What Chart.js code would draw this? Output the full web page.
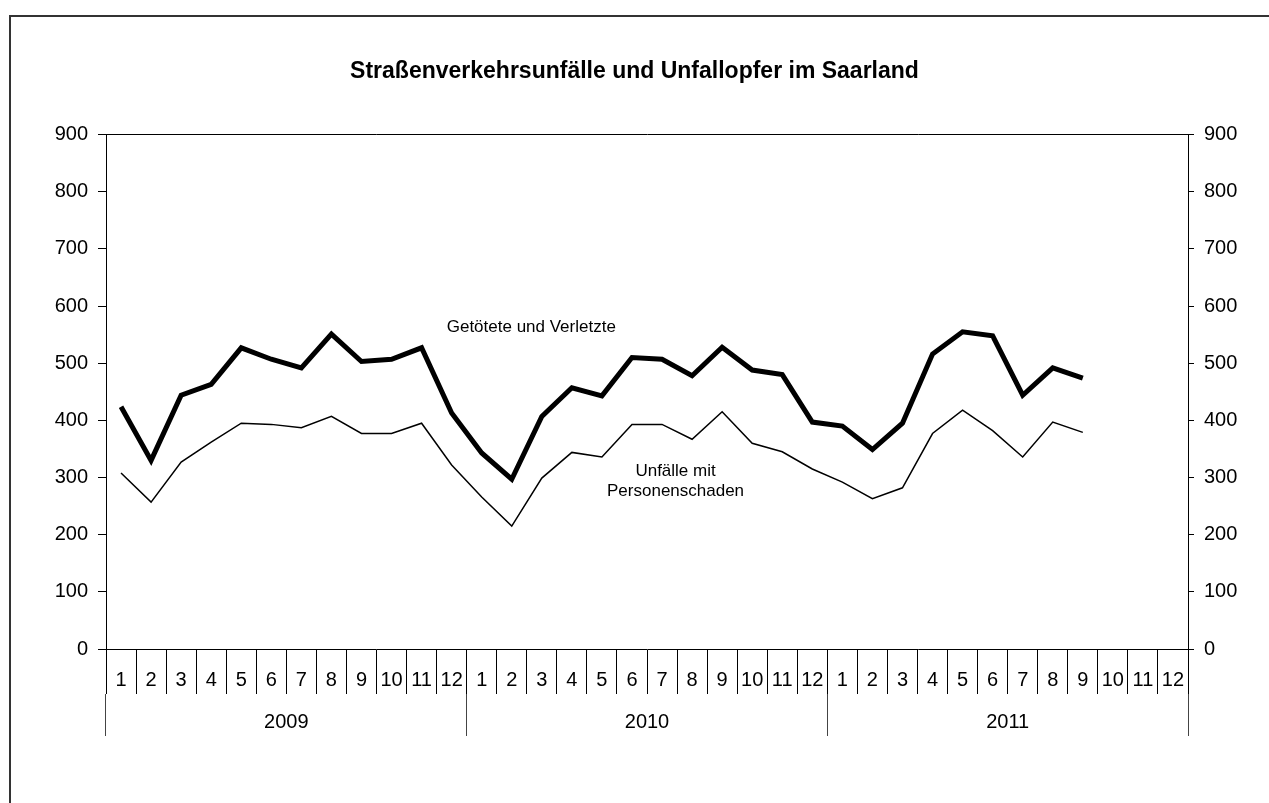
<!DOCTYPE html>
<html>
<head>
<meta charset="utf-8">
<title>Straßenverkehrsunfälle und Unfallopfer im Saarland</title>
<script src="https://cdn.jsdelivr.net/npm/chart.js@4.4.1/dist/chart.umd.min.js"></script>
<style>
  html, body { margin: 0; padding: 0; background: #fff; overflow: hidden; }
  #frame {
    position: absolute; left: 9px; top: 15px; width: 1400px; height: 900px;
    border-left: 2px solid #333; border-top: 2px solid #333;
  }
  #chart { position: absolute; left: 0; top: 0; }
</style>
</head>
<body>
<div id="frame"></div>
<canvas id="chart" width="1269" height="803"></canvas>
<script>
// data
var years = ["2009", "2010", "2011"];
var months = ["1", "2", "3", "4", "5", "6", "7", "8", "9", "10", "11", "12"];
var monthLabels = [].concat(months, months, months);

var verletzte = [
  424, 330, 444, 463, 527, 507, 492, 551, 503, 507, 527, 413,
  343, 297, 407, 457, 443, 510, 507, 478, 528, 488, 480, 397,
  390, 349, 395, 516, 555, 548, 444, 492, 474, null, null, null
];
var unfaelle = [
  308, 257, 327, 362, 395, 393, 387, 407, 377, 377, 395, 322,
  266, 215, 299, 344, 336, 393, 393, 367, 415, 360, 345, 315,
  292, 263, 282, 377, 418, 382, 336, 397, 379, null, null, null
];
var yMin = 0, yMax = 900, yStep = 100;

// in-chart series labels (category index, value)
var notes = [
  { lines: ["Getötete und Verletzte"], at: 13.65, value: 562 },
  { lines: ["Unfälle mit", "Personenschaden"], at: 18.45, value: 293 }
];

Chart.defaults.font.family = '"Liberation Sans", Arial, sans-serif';
Chart.defaults.color = "#000";

var noteLabels = {
  id: "noteLabels",
  afterDatasetsDraw: function (chart) {
    var ctx = chart.ctx;
    var xs = chart.scales.x, ys = chart.scales.y;
    ctx.save();
    ctx.font = '17px "Liberation Sans", Arial, sans-serif';
    ctx.fillStyle = "#000";
    ctx.textAlign = "center";
    ctx.textBaseline = "middle";
    notes.forEach(function (n) {
      var x = xs.getPixelForValue(n.at);
      var y = ys.getPixelForValue(n.value);
      n.lines.forEach(function (line, i) {
        ctx.fillText(line, x, y + (i - (n.lines.length - 1) / 2) * 20.5);
      });
    });
    ctx.restore();
  }
};

var yAxis = function (pos, width, tick) {
  return {
    type: "linear",
    position: pos,
    min: yMin,
    max: yMax,
    ticks: { stepSize: yStep, padding: 10, font: { size: 20 }, color: "#000" },
    grid: { drawOnChartArea: false, tickLength: tick, color: "#000" },
    border: { display: true, color: "#000" },
    afterFit: function (s) { s.width = width; }
  };
};

new Chart(document.getElementById("chart").getContext("2d"), {
  type: "line",
  data: {
    labels: monthLabels,
    datasets: [{
      label: "Getötete und Verletzte",
      data: verletzte,
      borderColor: "#000",
      borderWidth: 5,
      pointRadius: 0,
      tension: 0,
      fill: false
    }, {
      label: "Unfälle mit Personenschaden",
      data: unfaelle,
      borderColor: "#000",
      borderWidth: 1.5,
      pointRadius: 0,
      tension: 0,
      fill: false
    }]
  },
  options: {
    responsive: false,
    animation: false,
    layout: { padding: { left: 0, right: 0, top: 0, bottom: 67 } },
    plugins: {
      legend: { display: false },
      tooltip: { enabled: false },
      title: {
        display: true,
        text: "Straßenverkehrsunfälle und Unfallopfer im Saarland",
        font: { size: 23, weight: "bold" },
        color: "#000",
        padding: { top: 58, bottom: 49 }
      }
    },
    scales: {
      x: {
        type: "category",
        position: "bottom",
        offset: true,
        weight: 0,
        ticks: { autoSkip: false, maxRotation: 0, padding: -26, font: { size: 20 }, color: "#000" },
        grid: { offset: true, drawOnChartArea: false, tickLength: 45, color: "#000" },
        border: { display: true, color: "#000" },
        afterFit: function (s) { s.height = 45; }
      },
      xYears: {
        type: "category",
        position: "bottom",
        labels: years,
        offset: true,
        weight: 1,
        ticks: { autoSkip: false, maxRotation: 0, padding: -26, font: { size: 20 }, color: "#000" },
        grid: { offset: true, drawOnChartArea: false, tickLength: 42, color: "#444" },
        border: { display: false },
        afterFit: function (s) { s.height = 42; }
      },
      xTop: {
        type: "category",
        position: "top",
        labels: monthLabels,
        offset: true,
        ticks: { display: false },
        grid: { drawOnChartArea: false, drawTicks: false },
        border: { display: true, color: "#000" },
        afterFit: function (s) { s.height = 0; }
      },
      y: yAxis("left", 106, 8),
      y2: yAxis("right", 81, 6)
    }
  },
  plugins: [noteLabels]
});
</script>
</body>
</html>
